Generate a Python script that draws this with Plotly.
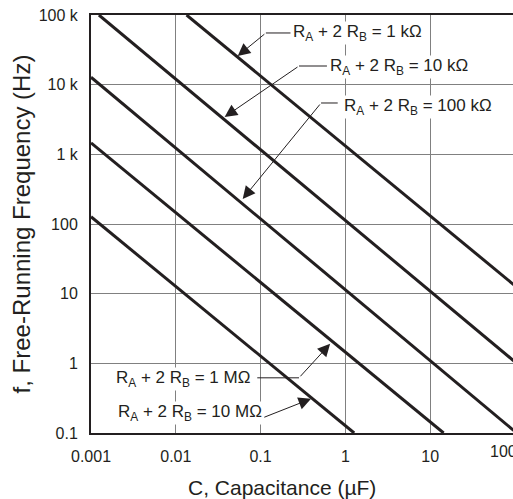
import plotly.graph_objects as go

# ---- data ----
series_names = ["1 kΩ", "10 kΩ", "100 kΩ", "1 MΩ", "10 MΩ"]
cap_1k = [0.0134, 100]
freq_1k = [100000, 13]
cap_10k = [0.00124, 100]
freq_10k = [100000, 1.05]
cap_100k = [0.001, 100]
freq_100k = [12800, 0.105]
cap_1M = [0.001, 14.4]
freq_1M = [1460, 0.1]
cap_10M = [0.001, 1.27]
freq_10M = [127, 0.1]

x_tickvals = [0.001, 0.01, 0.1, 1, 10, 100]
x_ticktext = ["0.001", "0.01", "0.1", "1", "10", ""]   # "100" drawn as a clipped label below
x_last_label = "100"
y_tickvals = [0.1, 1, 10, 100, 1000, 10000, 100000]
y_ticktext = ["0.1", "1", "10", "100", "1 k", "10 k", "100 k"]

caps = [cap_1k, cap_10k, cap_100k, cap_1M, cap_10M]
freqs = [freq_1k, freq_10k, freq_100k, freq_1M, freq_10M]

LINE = "#231f20"
GRID = "#808080"
FONT = "Arial, Liberation Sans, sans-serif"
W, H = 515, 499
ML, MT, MB = 91, 15, 66
PW, PH = W - ML, H - MT - MB

fig = go.Figure()
for name, c, f in zip(series_names, caps, freqs):
    fig.add_trace(go.Scatter(x=c, y=f, mode="lines", name=name,
                             line=dict(color=LINE, width=3), showlegend=False,
                             hoverinfo="skip"))

def label(text, x, y):
    fig.add_annotation(text=text, x=x, y=y, xref="x", yref="y",
                       xanchor="left", yanchor="middle", showarrow=False,
                       bgcolor="white", borderpad=0,
                       font=dict(family=FONT, size=17, color=LINE))

def seg(x0, y0, x1, y1, head):
    fig.add_annotation(text="", x=x1, y=y1, ax=x0, ay=y0,
                       xref="x", yref="y", axref="x", ayref="y",
                       showarrow=True, arrowhead=2 if head else 0,
                       arrowsize=2.5 if head else 1, arrowwidth=1,
                       arrowcolor=LINE, standoff=0, startstandoff=0)

sub = lambda v: "R<sub>A</sub> + 2 R<sub>B</sub> = " + v

# 1 kΩ
label(sub("1 kΩ"), -0.630, 4.742)
seg(-0.630, 4.742, -0.938, 4.742, False)
seg(-0.938, 4.742, -1.270, 4.412, True)
# 10 kΩ
label(sub("10 kΩ"), -0.192, 4.254)
seg(-0.200, 4.268, -0.547, 4.268, False)
seg(-0.547, 4.268, -1.424, 3.537, True)
# 100 kΩ
label(sub("100 kΩ"), -0.026, 3.680)
seg(-0.073, 3.737, -0.287, 3.737, False)
seg(-0.287, 3.737, -1.211, 2.360, True)
# 1 MΩ
label(sub("1 MΩ"), -2.716, -0.222)
seg(-1.057, -0.208, -0.547, -0.208, False)
seg(-0.547, -0.208, -0.180, 0.280, True)
# 10 MΩ
label(sub("10 MΩ"), -2.692, -0.710)
seg(-0.974, -0.782, -0.405, -0.509, True)

# last x tick label, partly cut by the page edge as in the reference
fig.add_annotation(text=x_last_label, xref="paper", yref="paper",
                   x=(488 - ML) / PW, y=0, xanchor="left", yanchor="top",
                   yshift=-8, showarrow=False,
                   font=dict(family=FONT, size=16, color=LINE))

# x-axis title
fig.add_annotation(text="C, Capacitance (µF)", xref="paper", yref="paper",
                   x=(282 - ML) / PW, y=-(487 - (H - MB)) / PH,
                   xanchor="center", yanchor="middle", showarrow=False,
                   font=dict(family=FONT, size=21, color=LINE))

axis_common = dict(type="log", showgrid=True, gridcolor=GRID, gridwidth=1,
                   showline=True, linecolor=LINE, linewidth=2,
                   ticks="outside", ticklen=8, tickcolor="rgba(0,0,0,0)",
                   zeroline=False, automargin=False,
                   tickfont=dict(family=FONT, size=16, color=LINE))

fig.update_xaxes(range=[-3, 2], tickvals=x_tickvals, ticktext=x_ticktext,
                 mirror=True, **axis_common)
fig.update_yaxes(range=[-1, 5], tickvals=y_tickvals, ticktext=y_ticktext,
                 mirror=False,
                 title=dict(text="f, Free-Running Frequency (Hz)", standoff=1,
                            font=dict(family=FONT, size=24, color=LINE)),
                 **axis_common)

fig.update_layout(width=W, height=H,
                  margin=dict(l=ML, r=0, t=MT, b=MB),
                  paper_bgcolor="white", plot_bgcolor="white")

fig.write_html("out.html", config={"displayModeBar": False},
               post_script="document.body.style.margin='0';document.body.style.overflow='hidden';")
